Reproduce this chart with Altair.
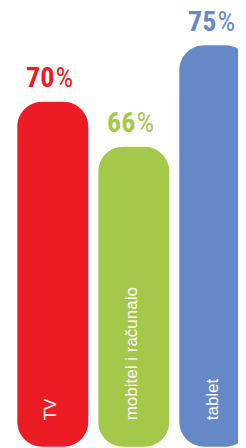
import altair as alt
import pandas as pd

categories = ["TV", "mobitel i računalo", "tablet"]
values = [70, 66, 75]
colors = ["#ED1C24", "#A4C84A", "#6588C6"]
base_value = 39.4

df = pd.DataFrame({"cat": categories, "value": values, "color": colors,
                   "num": [str(v) for v in values], "pct": ["%"] * len(values)})

xenc = alt.X("cat:N", sort=categories,
             scale=alt.Scale(range=[9.3, 242.3], paddingInner=0.1235, paddingOuter=0),
             axis=None)
yscale = alt.Scale(domain=[base_value, 75], range=[438.8, 37.3])
yenc = alt.Y("value:Q", scale=yscale, axis=None)

base = alt.Chart(df)

bars = base.mark_bar(cornerRadius=25, clip=True).encode(
    x=xenc,
    y=yenc,
    y2=alt.datum(base_value),
    color=alt.Color("color:N", scale=None),
)

num_font = "Arial Narrow, Liberation Sans Narrow, Roboto Condensed, Noto Sans Condensed, Liberation Sans, sans-serif"

nums = base.mark_text(font=num_font, fontSize=28, fontWeight="bold", align="right",
                      baseline="alphabetic", dx=1.6, dy=-14.7).encode(
    x=xenc, y=yenc, text="num:N",
    color=alt.Color("color:N", scale=None),
)

pcts = base.mark_text(font=num_font, fontSize=28, fontWeight="normal", align="left",
                      baseline="alphabetic", dx=2.6, dy=-14.7).encode(
    x=xenc, y=yenc, text="pct:N",
    color=alt.Color("color:N", scale=None),
)

labels = base.mark_text(font="Liberation Sans, Arial, sans-serif", fontSize=17,
                        color="white", angle=270, align="left",
                        baseline="alphabetic", dx=26.5, dy=3.2).encode(
    x=xenc,
    y=alt.Y(datum=base_value, scale=yscale, axis=None),
    text="cat:N",
)

chart = alt.layer(bars, nums, pcts, labels).properties(
    width=230, height=440, padding=0, autosize=alt.AutoSizeParams(type="none")
).configure_view(strokeWidth=0)

chart.save("out.html", embed_options={"renderer": "svg", "actions": False})
